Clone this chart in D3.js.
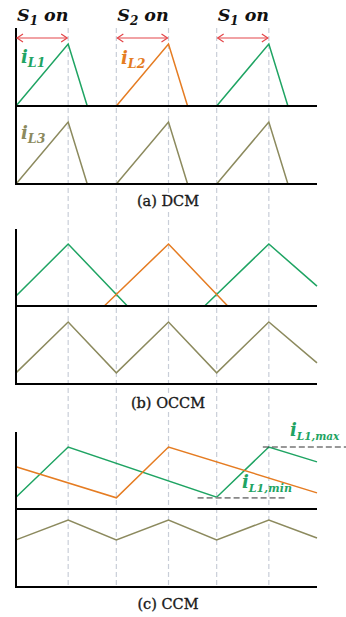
<!DOCTYPE html>
<html>
<head>
<meta charset="utf-8">
<script src="https://cdn.jsdelivr.net/npm/d3@7"></script>
<style>
  body { margin: 0; background: #fff; }
  svg { display: block; }
</style>
</head>
<body>
<div class="chart"></div>
<script>
// switching instants (units of half period) and on-time
var onStarts = [0, 1, 2];
var onLabels = [["S", "1"], ["S", "2"], ["S", "1"]];
var gridTimes = [0.52, 1, 1.52, 2, 2.52];
var onTime = 0.52;

// (a) DCM waveforms, [t, current]
var dcmL1 = [[[0, 0], [0.52, 1], [0.71, 0]], [[2, 0], [2.52, 1], [2.71, 0]]];
var dcmL2 = [[[1, 0], [1.52, 1], [1.71, 0]]];
var dcmL3 = [[[0, 0], [0.52, 1], [0.71, 0]], [[1, 0], [1.52, 1], [1.71, 0]], [[2, 0], [2.52, 1], [2.71, 0]]];

// (b) OCCM
var occmL1 = [[[0, 0.16], [0.52, 1], [1.11, 0]], [[1.88, 0], [2.52, 1], [3, 0.32]]];
var occmL2 = [[[0.88, 0], [1.52, 1], [2.11, 0]]];
var occmL3 = [[[0, 0.18], [0.52, 1], [1, 0.18], [1.52, 1], [2, 0.18], [2.52, 1], [3, 0.34]]];

// (c) CCM
var ccmL1 = [[[0, 0.19], [0.52, 1], [2, 0.19], [2.52, 1], [3, 0.76]]];
var ccmL2 = [[[0, 0.68], [1, 0.18], [1.52, 1], [3, 0.26]]];
var ccmL3 = [[[0, 0.76], [0.52, 1.08], [1, 0.76], [1.52, 1.08], [2, 0.76], [2.52, 1.08], [3, 0.79]]];
var maxLine = [2.46, 3.3];
var minLine = [1.81, 2.7];
var maxLevel = 1, minLevel = 0.18;

var w = 346, h = 617;
var green = "#1fa463", orange = "#e57c22", olive = "#8c8a5e", red = "#e4474a";

var svg = d3.select(".chart").append("svg")
    .attr("width", w)
    .attr("height", h);

var x = d3.scaleLinear().domain([0, 3]).range([16, 317]);

var panels = [
    {top: 28, bases: [106, 184], sets: [[dcmL1, green], [dcmL2, orange]], low: dcmL3, label: "(a) DCM", ly: 206},
    {top: 229, bases: [306, 384], sets: [[occmL1, green], [occmL2, orange]], low: occmL3, label: "(b) OCCM", ly: 408},
    {top: 432, bases: [509, 587], sets: [[ccmL1, green], [ccmL2, orange]], low: ccmL3, label: "(c) CCM", ly: 609}
];

function yFor(base) {
    return d3.scaleLinear().domain([0, 1]).range([base, base - 62]);
}

// dashed grid
svg.append("g").selectAll("line")
    .data(gridTimes)
    .enter().append("line")
    .attr("x1", function(d) { return x(d); })
    .attr("x2", function(d) { return x(d); })
    .attr("y1", 28)
    .attr("y2", 587)
    .attr("stroke", "#c9ced8")
    .attr("stroke-width", 1.2)
    .attr("stroke-dasharray", "5,3");

panels.forEach(function(p) {
    var g = svg.append("g");
    var yTop = yFor(p.bases[0]), yLow = yFor(p.bases[1]);
    var line = function(ys) {
        return d3.line().x(function(d) { return x(d[0]); }).y(function(d) { return ys(d[1]); });
    };
    p.sets.forEach(function(s) {
        g.selectAll(null).data(s[0]).enter().append("path")
            .attr("d", line(yTop))
            .attr("fill", "none")
            .attr("stroke", s[1])
            .attr("stroke-width", 1.5);
    });
    g.selectAll(null).data(p.low).enter().append("path")
        .attr("d", line(yLow))
        .attr("fill", "none")
        .attr("stroke", olive)
        .attr("stroke-width", 1.5);

    // axes
    g.append("line").attr("x1", x(0)).attr("x2", x(0)).attr("y1", p.top).attr("y2", p.bases[1] + 1)
        .attr("stroke", "#000").attr("stroke-width", 2);
    p.bases.forEach(function(b) {
        g.append("line").attr("x1", x(0)).attr("x2", x(3)).attr("y1", b).attr("y2", b)
            .attr("stroke", "#000").attr("stroke-width", 2);
    });

    // caption with white backing
    var t = svg.append("text")
        .attr("x", 168)
        .attr("y", p.ly)
        .attr("text-anchor", "middle")
        .style("font-family", "'DejaVu Serif', serif")
        .style("font-size", "14.5px")
        .style("fill", "#1a1a1a")
        .style("stroke", "#1a1a1a")
        .style("stroke-width", 0.35)
        .text(p.label);
    var bb = t.node().getBBox();
    svg.insert("rect", function() { return t.node(); })
        .attr("x", bb.x - 2).attr("y", bb.y).attr("width", bb.width + 4).attr("height", bb.height)
        .attr("fill", "#fff");
});

// S on arrows
var arrowY = 38;
var arr = svg.append("g");
onStarts.forEach(function(s, i) {
    var x0 = x(s), x1 = x(s + onTime);
    arr.append("line").attr("x1", x0 + 1).attr("x2", x1 - 1).attr("y1", arrowY).attr("y2", arrowY)
        .attr("stroke", red).attr("stroke-width", 1.2);
    arr.append("path")
        .attr("d", "M" + (x0 + 7) + "," + (arrowY - 4) + "L" + (x0 + 1) + "," + arrowY + "L" + (x0 + 7) + "," + (arrowY + 4)
            + "M" + (x1 - 7) + "," + (arrowY - 4) + "L" + (x1 - 1) + "," + arrowY + "L" + (x1 - 7) + "," + (arrowY + 4))
        .attr("fill", "none").attr("stroke", red).attr("stroke-width", 1.2);

    var t = svg.append("text")
        .attr("x", x0 + 1)
        .attr("y", 21)
        .style("font-family", "'DejaVu Serif', serif")
        .style("font-weight", "bold")
        .style("font-style", "italic")
        .style("font-size", "17.5px")
        .style("fill", "#111");
    t.append("tspan").text(onLabels[i][0]);
    t.append("tspan").attr("dy", 4).style("font-size", "12px").text(onLabels[i][1]);
    t.append("tspan").attr("dy", -4).attr("dx", 6).text("on");
});

// current labels
function curLabel(px, py, sub, color, subSize) {
    var t = svg.append("text")
        .attr("x", px)
        .attr("y", py)
        .style("font-family", "'DejaVu Serif', serif")
        .style("font-weight", "bold")
        .style("font-style", "italic")
        .style("font-size", "18px")
        .style("fill", color);
    t.append("tspan").text("i");
    t.append("tspan").attr("dy", 4).style("font-size", subSize + "px").text(sub);
}
curLabel(21, 63, "L1", green, 12.5);
curLabel(121, 64, "L2", orange, 12.5);
curLabel(21, 139, "L3", olive, 12.5);
curLabel(290, 436, "L1,max", green, 10.5);
curLabel(242, 488, "L1,min", green, 11);

// max / min markers in CCM
var yc = yFor(509);
svg.append("line").attr("x1", x(maxLine[0])).attr("x2", x(maxLine[1]))
    .attr("y1", yc(maxLevel)).attr("y2", yc(maxLevel))
    .attr("stroke", "#333").attr("stroke-width", 1.2).attr("stroke-dasharray", "6,3");
svg.append("line").attr("x1", x(minLine[0])).attr("x2", x(minLine[1]))
    .attr("y1", yc(minLevel)).attr("y2", yc(minLevel))
    .attr("stroke", "#888").attr("stroke-width", 1.6).attr("stroke-dasharray", "6,3");
</script>
</body>
</html>
